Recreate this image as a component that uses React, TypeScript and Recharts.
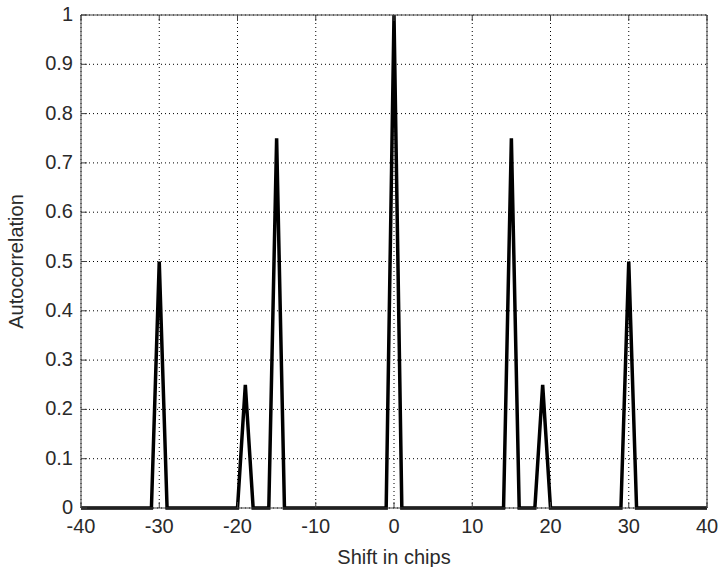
import { LineChart, Line, XAxis, YAxis, CartesianGrid } from "recharts";

// vertices of the autocorrelation curve (shift in chips, normalised value)
const shifts = [-40, -31, -30, -29, -20, -19, -18, -16, -15, -14, -1, 0, 1, 14, 15, 16, 18, 19, 20, 29, 30, 31, 40];
const autocorr = [0, 0, 0.5, 0, 0, 0.25, 0, 0, 0.75, 0, 0, 1, 0, 0, 0.75, 0, 0, 0.25, 0, 0, 0.5, 0, 0];

const xTicks = [-40, -30, -20, -10, 0, 10, 20, 30, 40];
const yTicks = [0, 0.1, 0.2, 0.3, 0.4, 0.5, 0.6, 0.7, 0.8, 0.9, 1];

const data = shifts.map((s, i) => ({ shift: s, value: autocorr[i] }));

const FONT = "'Liberation Sans', Arial, sans-serif";
const TEXT = "#2a2a2a";
const BOX = "#404040";
const TICK_LEN = 6;
const FS = 20;

const BottomTick = ({ x, y, payload }: any) => (
  <g>
    <line x1={x} y1={y} x2={x} y2={y - TICK_LEN} stroke={BOX} />
    <text x={x} y={y + 11} dy="0.72em" textAnchor="middle" fill={TEXT} fontSize={FS} fontFamily={FONT}>
      {payload.value}
    </text>
  </g>
);

const TopTick = ({ x, y }: any) => <line x1={x} y1={y} x2={x} y2={y + TICK_LEN} stroke={BOX} />;

const LeftTick = ({ x, y, payload }: any) => (
  <g>
    <line x1={x} y1={y} x2={x + TICK_LEN} y2={y} stroke={BOX} />
    <text x={x - 8} y={y} dy="0.3em" textAnchor="end" fill={TEXT} fontSize={FS} fontFamily={FONT}>
      {payload.value}
    </text>
  </g>
);

const RightTick = ({ x, y }: any) => <line x1={x} y1={y} x2={x - TICK_LEN} y2={y} stroke={BOX} />;

export default function App() {
  return (
    <div style={{ position: "absolute", left: 0, top: 0, background: "#fff" }}>
      <LineChart width={719} height={567} data={data} margin={{ top: 0, right: 0, bottom: 0, left: 0 }}>
        <CartesianGrid stroke="#000" strokeDasharray="1 3" />
        <XAxis
          dataKey="shift"
          type="number"
          domain={[-40, 40]}
          ticks={xTicks}
          interval={0}
          height={59}
          tickSize={0}
          tickMargin={0}
          tickLine={false}
          axisLine={{ stroke: BOX }}
          tick={<BottomTick />}
          label={{ value: "Shift in chips", position: "insideBottom", offset: 3, fill: TEXT, fontSize: FS, fontFamily: FONT }}
        />
        <XAxis
          xAxisId="top"
          orientation="top"
          dataKey="shift"
          type="number"
          domain={[-40, 40]}
          ticks={xTicks}
          interval={0}
          height={15}
          tickSize={0}
          tickMargin={0}
          tickLine={false}
          axisLine={{ stroke: BOX }}
          tick={<TopTick />}
        />
        <YAxis
          type="number"
          domain={[0, 1]}
          ticks={yTicks}
          interval={0}
          width={81}
          tickSize={0}
          tickMargin={0}
          tickLine={false}
          axisLine={{ stroke: BOX }}
          tick={<LeftTick />}
          label={{ value: "Autocorrelation", angle: -90, position: "insideLeft", offset: 16, fill: TEXT, fontSize: FS, fontFamily: FONT, style: { textAnchor: "middle" } }}
        />
        <YAxis
          yAxisId="right"
          orientation="right"
          type="number"
          domain={[0, 1]}
          ticks={yTicks}
          interval={0}
          width={12}
          tickSize={0}
          tickMargin={0}
          tickLine={false}
          axisLine={{ stroke: BOX }}
          tick={<RightTick />}
        />
        <Line
          type="linear"
          dataKey="value"
          stroke="#000"
          strokeWidth={3.5}
          dot={false}
          activeDot={false}
          isAnimationActive={false}
        />
      </LineChart>
    </div>
  );
}
